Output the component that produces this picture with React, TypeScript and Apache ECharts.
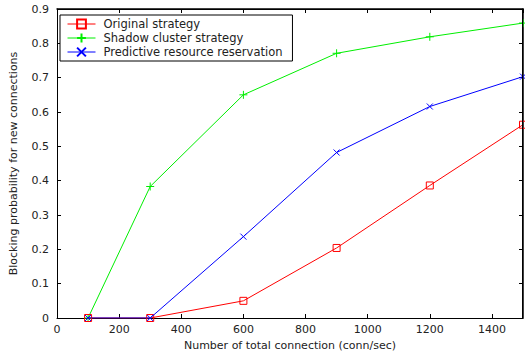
import React, { useEffect, useRef } from "react";
import * as echarts from "echarts";

const xValues = [100, 300, 600, 900, 1200, 1500];
const originalStrategy = [0, 0, 0.05, 0.204, 0.386, 0.563];
const shadowCluster = [0, 0.383, 0.65, 0.771, 0.819, 0.859];
const predictiveReservation = [0, 0, 0.237, 0.482, 0.616, 0.703];
const seriesNames = [
  "Original strategy",
  "Shadow cluster strategy",
  "Predictive resource reservation",
];

const FONT = "DejaVu Sans, sans-serif";
const TXT = "#222";
const plusPath = "path://M5,0L5,10M0,5L10,5";
const crossPath = "path://M0,0L10,10M10,0L0,10";

function pairs(ys: number[]) {
  return xValues.map((x, i) => [x, ys[i]]);
}

export default function App() {
  const ref = useRef<HTMLDivElement>(null);
  useEffect(() => {
    if (!ref.current) return;
    const chart = echarts.init(ref.current, undefined, { renderer: "svg" });
    const mirror = {
      axisLine: { show: true, onZero: false, lineStyle: { color: "#000", width: 1.5 } },
      axisTick: { show: true, inside: true, length: 4, lineStyle: { color: "#000", width: 1 } },
      axisLabel: { show: false },
      splitLine: { show: false },
    };
    chart.setOption({
      animation: false,
      grid: { left: 53, top: 9, right: 2, bottom: 37, containLabel: false },
      legend: {
        orient: "vertical",
        left: 60,
        top: 15,
        padding: [3, 10, 3, 7],
        itemGap: 2,
        itemWidth: 28,
        itemHeight: 11,
        borderColor: "#000",
        borderWidth: 1,
        backgroundColor: "#fff",
        lineStyle: { width: 1 },
        textStyle: { fontSize: 11.5, fontFamily: FONT, color: TXT, padding: [0, 0, 0, 3] },
        data: seriesNames,
      },
      xAxis: [
        {
          type: "value",
          min: 0,
          max: 1500,
          interval: 200,
          name: "Number of total connection (conn/sec)",
          nameLocation: "middle",
          nameGap: 22,
          nameTextStyle: { fontSize: 11, fontFamily: FONT, color: TXT },
          axisLine: { show: true, onZero: false, lineStyle: { color: "#000", width: 1 } },
          axisTick: { show: true, inside: true, length: 4, lineStyle: { color: "#000" } },
          axisLabel: {
            fontSize: 11,
            fontFamily: FONT,
            color: TXT,
            showMaxLabel: false,
            margin: 6,
            formatter: (v: number) => String(v),
          },
          splitLine: { show: false },
        },
        { type: "value", position: "top", min: 0, max: 1500, interval: 200, ...mirror },
      ],
      yAxis: [
        {
          type: "value",
          min: 0,
          max: 0.9,
          interval: 0.1,
          name: "Blocking probability for new connections",
          nameLocation: "middle",
          nameGap: 38,
          nameTextStyle: { fontSize: 11, fontFamily: FONT, color: TXT },
          axisLine: { show: true, onZero: false, lineStyle: { color: "#000", width: 1 } },
          axisTick: { show: true, inside: true, length: 4, lineStyle: { color: "#000" } },
          axisLabel: {
            fontSize: 11,
            fontFamily: FONT,
            color: TXT,
            margin: 8,
            formatter: (v: number) => (v === 0 ? "0" : String(Math.round(v * 10) / 10)),
          },
          splitLine: { show: false },
        },
        { type: "value", position: "right", min: 0, max: 0.9, interval: 0.1, ...mirror },
      ],
      series: [
        {
          name: seriesNames[0],
          type: "line",
          data: pairs(originalStrategy),
          symbol: "rect",
          symbolSize: 7,
          showAllSymbol: true,
          lineStyle: { color: "#ff0000", width: 1 },
          itemStyle: { color: "rgba(0,0,0,0)", borderColor: "#ff0000", borderWidth: 1 },
          z: 3,
        },
        {
          name: seriesNames[1],
          type: "line",
          data: pairs(shadowCluster),
          symbol: plusPath,
          symbolSize: 8,
          lineStyle: { color: "#00ee00", width: 1 },
          itemStyle: { color: "rgba(0,0,0,0)", borderColor: "#00ee00", borderWidth: 1 },
          z: 2,
        },
        {
          name: seriesNames[2],
          type: "line",
          data: pairs(predictiveReservation),
          symbol: crossPath,
          symbolSize: 6,
          lineStyle: { color: "#0000ff", width: 1 },
          itemStyle: { color: "rgba(0,0,0,0)", borderColor: "#0000ff", borderWidth: 1 },
          z: 4,
        },
      ],
    });
    // Frame drawn from the axes' own scale (backup for top/right border)
    const p0 = chart.convertToPixel({ gridIndex: 0 }, [0, 0]) as number[];
    const p1 = chart.convertToPixel({ gridIndex: 0 }, [1500, 0.9]) as number[];
    if (p0 && p1) {
      chart.setOption({
        graphic: [
          {
            type: "polyline",
            silent: true,
            z: 10,
            shape: {
              points: [
                [Math.round(p0[0]) + 0.5, Math.round(p1[1]) + 0.5],
                [Math.round(p1[0]) - 0.5, Math.round(p1[1]) + 0.5],
                [Math.round(p1[0]) - 0.5, Math.round(p0[1]) + 0.5],
              ],
            },
            style: { stroke: "#000", lineWidth: 1, fill: "none" },
          },
        ],
      });
    }
    return () => chart.dispose();
  }, []);
  return (
    <div
      ref={ref}
      style={{ position: "fixed", left: 0, top: 0, width: 525, height: 356, background: "#fff" }}
    />
  );
}
